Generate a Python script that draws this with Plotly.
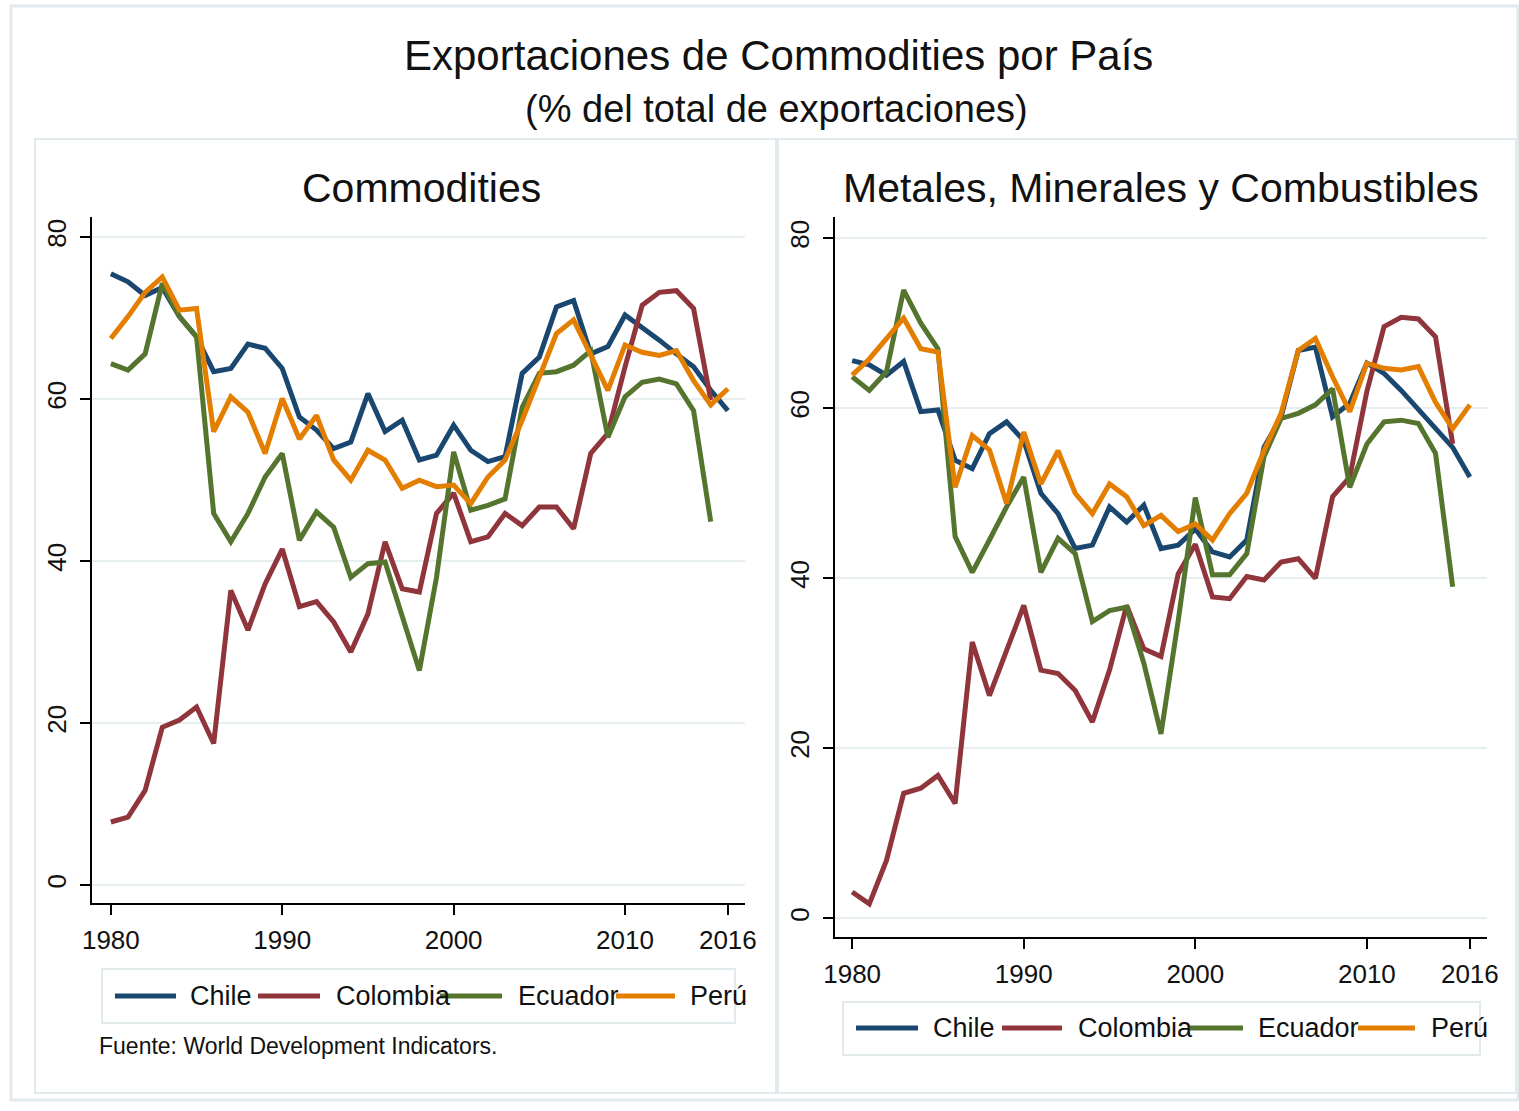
import plotly.graph_objects as go

# ---------------- data ----------------
years = list(range(1980, 2017))
countries = ["Chile", "Colombia", "Ecuador", "Perú"]

# Panel 1: Commodities (% of total exports)
chile_c = [75.5, 74.5, 72.8, 73.8, 70.2, 67.7, 63.4, 63.8, 66.8, 66.3, 63.8, 57.8, 56.2, 53.9, 54.7, 60.7, 56.0, 57.4, 52.5,
           53.1, 56.8, 53.7, 52.3, 52.9, 63.2, 65.2, 71.4, 72.2, 65.6, 66.5, 70.4, 68.9, 67.3, 65.6, 64.0, 61.1, 58.6]
colombia_c = [7.8, 8.4, 11.7, 19.5, 20.4, 22.0, 17.5, 36.4, 31.5, 37.2, 41.5, 34.4, 35.0, 32.5, 28.8, 33.5, 42.4, 36.6, 36.2,
              45.9, 48.4, 42.4, 43.0, 45.9, 44.4, 46.7, 46.7, 44.0, 53.3, 55.8, 64.0, 71.6, 73.2, 73.4, 71.2, 59.9, None]
ecuador_c = [64.4, 63.6, 65.6, 74.3, 70.2, 67.7, 45.9, 42.4, 45.9, 50.4, 53.3, 42.6, 46.1, 44.2, 38.0, 39.7, 39.9, 33.3, 26.5,
             38.0, 53.5, 46.3, 46.9, 47.7, 59.0, 63.2, 63.4, 64.2, 66.0, 55.3, 60.3, 62.1, 62.5, 61.9, 58.6, 44.9, None]
peru_c = [67.5, 70.2, 73.2, 75.1, 71.0, 71.2, 56.0, 60.3, 58.4, 53.3, 60.1, 55.1, 58.0, 52.5, 50.0, 53.7, 52.5, 49.0, 50.0,
          49.2, 49.4, 47.1, 50.4, 52.5, 57.4, 62.7, 68.1, 69.8, 65.6, 61.1, 66.7, 65.8, 65.4, 66.0, 62.3, 59.3, 61.3]

# Panel 2: Metales, Minerales y Combustibles (% of total exports)
chile_m = [65.6, 65.1, 63.9, 65.5, 59.6, 59.8, 53.9, 52.9, 57.0, 58.4, 56.2, 50.0, 47.6, 43.5, 43.9, 48.4, 46.6, 48.6, 43.5,
           43.9, 45.8, 43.1, 42.5, 44.5, 55.4, 59.0, 66.8, 67.2, 59.0, 60.6, 65.3, 64.1, 62.1, 59.9, 57.8, 55.4, 51.9]
colombia_m = [3.1, 1.7, 6.8, 14.7, 15.3, 16.8, 13.5, 32.5, 26.2, 31.5, 36.8, 29.2, 28.8, 26.8, 23.1, 29.2, 36.8, 31.7, 30.8,
              40.5, 44.0, 37.8, 37.6, 40.2, 39.8, 41.9, 42.3, 40.0, 49.6, 51.9, 62.0, 69.6, 70.7, 70.5, 68.4, 55.8, None]
ecuador_m = [63.7, 62.1, 64.3, 73.9, 70.0, 67.0, 44.9, 40.7, 44.5, 48.4, 51.9, 40.7, 44.7, 42.9, 34.9, 36.2, 36.6, 30.0, 21.7,
             35.0, 49.5, 40.4, 40.4, 42.9, 54.3, 58.8, 59.4, 60.4, 62.3, 50.7, 55.8, 58.4, 58.6, 58.2, 54.7, 39.0, None]
peru_m = [63.9, 65.8, 68.2, 70.6, 67.0, 66.6, 50.7, 56.8, 55.1, 48.8, 57.2, 51.1, 55.0, 50.0, 47.6, 51.1, 49.6, 46.2, 47.4,
          45.5, 46.4, 44.5, 47.6, 50.0, 55.0, 59.4, 66.8, 68.2, 63.7, 59.6, 65.3, 64.7, 64.5, 64.9, 60.7, 57.6, 60.4]

x_ticks = [1980, 1990, 2000, 2010, 2016]
y_ticks = [0, 20, 40, 60, 80]

title = "Exportaciones de Commodities por País"
subtitle = "(% del total de exportaciones)"
panel_titles = ["Commodities", "Metales, Minerales y Combustibles"]
source = "Fuente: World Development Indicators."

# ---------------- style ----------------
W, H = 1519, 1111
colors = ["#1a476f", "#90353b", "#55752f", "#e37e00"]
FONT = "Liberation Sans, Arial, sans-serif"
TXT = "#111111"
GRID = "#e6eef0"
FRAME = "#e2eaed"


def px(x):
    return x / W


def py(y):
    return 1 - y / H


fig = go.Figure()

panels = [
    (chile_c, colombia_c, ecuador_c, peru_c),
    (chile_m, colombia_m, ecuador_m, peru_m),
]
for p, series in enumerate(panels):
    xa = "x" if p == 0 else "x2"
    ya = "y" if p == 0 else "y2"
    for name, vals, col in zip(countries, series, colors):
        fig.add_trace(go.Scatter(
            x=years, y=vals, name=name, mode="lines",
            line=dict(color=col, width=5),
            xaxis=xa, yaxis=ya, showlegend=False,
            connectgaps=False,
        ))

axis_common = dict(
    ticks="outside", ticklen=10, tickwidth=2, tickcolor="black",
    showline=True, linecolor="black", linewidth=2, zeroline=False, automargin=False,
    tickfont=dict(family=FONT, size=26, color=TXT),
)

fig.update_layout(
    template="none",
    width=W, height=H,
    margin=dict(l=0, r=0, t=0, b=0, pad=0, autoexpand=False),
    paper_bgcolor="white", plot_bgcolor="white",
    showlegend=False,
    xaxis=dict(domain=[px(92), px(745)], range=[1978.9, 2017.0], tickvals=x_ticks,
               showgrid=False, anchor="y", ticklabelstandoff=3, **axis_common),
    yaxis=dict(domain=[py(903), py(217)], range=[-2.2, 82.5], tickvals=y_ticks, tickangle=-90,
               showgrid=True, gridcolor=GRID, gridwidth=2, anchor="x", ticklabelstandoff=4, **axis_common),
    xaxis2=dict(domain=[px(835), px(1487)], range=[1979.0, 2017.0], tickvals=x_ticks,
                showgrid=False, anchor="y2", ticklabelstandoff=3, **axis_common),
    yaxis2=dict(domain=[py(937), py(217)], range=[-2.2, 82.5], tickvals=y_ticks, tickangle=-90,
                showgrid=True, gridcolor=GRID, gridwidth=2, anchor="x2", ticklabelstandoff=4, **axis_common),
)

shapes = []
# outer frame and panel frames
shapes.append(dict(type="rect", xref="paper", yref="paper", x0=px(11), x1=px(1518), y0=py(1100), y1=py(6),
                   line=dict(color=FRAME, width=3), fillcolor="rgba(0,0,0,0)", layer="below"))
shapes.append(dict(type="rect", xref="paper", yref="paper", x0=px(35), x1=px(776), y0=py(1093), y1=py(139),
                   line=dict(color=FRAME, width=2), fillcolor="rgba(0,0,0,0)", layer="below"))
shapes.append(dict(type="rect", xref="paper", yref="paper", x0=px(778), x1=px(1516), y0=py(1093), y1=py(139),
                   line=dict(color=FRAME, width=2), fillcolor="rgba(0,0,0,0)", layer="below"))

annotations = [
    dict(text=title, x=px(778), y=py(55), xref="paper", yref="paper", showarrow=False,
         xanchor="center", yanchor="middle", font=dict(family=FONT, size=42, color=TXT)),
    dict(text=subtitle, x=px(776), y=py(109), xref="paper", yref="paper", showarrow=False,
         xanchor="center", yanchor="middle", font=dict(family=FONT, size=38, color=TXT)),
    dict(text=panel_titles[0], x=px(421), y=py(188), xref="paper", yref="paper", showarrow=False,
         xanchor="center", yanchor="middle", font=dict(family=FONT, size=41, color=TXT)),
    dict(text=panel_titles[1], x=px(1161), y=py(188), xref="paper", yref="paper", showarrow=False,
         xanchor="center", yanchor="middle", font=dict(family=FONT, size=41, color=TXT)),
    dict(text=source, x=px(97), y=py(1046), xref="paper", yref="paper", showarrow=False,
         xanchor="left", yanchor="middle", font=dict(family=FONT, size=23, color=TXT)),
]

# manual legends (one per panel), mimicking the original layout
legend_specs = [
    dict(box=(102, 969, 735, 1023), yc=996,
         lines=[(115, 176), (258, 320), (440, 502), (616, 675)], texts=[188, 334, 516, 688]),
    dict(box=(843, 1002, 1480, 1055), yc=1028,
         lines=[(856, 918), (1002, 1062), (1190, 1243), (1358, 1415)], texts=[931, 1076, 1256, 1429]),
]
for spec in legend_specs:
    bx0, by0, bx1, by1 = spec["box"]
    shapes.append(dict(type="rect", xref="paper", yref="paper", x0=px(bx0), x1=px(bx1), y0=py(by1), y1=py(by0),
                       line=dict(color=FRAME, width=2), fillcolor="rgba(0,0,0,0)", layer="below"))
    for name, col, (lx0, lx1), tx in zip(countries, colors, spec["lines"], spec["texts"]):
        annotations.append(dict(text=name, x=px(tx), y=py(spec["yc"]), xref="paper", yref="paper",
                                showarrow=False, xanchor="left", yanchor="middle",
                                font=dict(family=FONT, size=27, color=TXT)))
    for name, col, (lx0, lx1), tx in zip(countries, colors, spec["lines"], spec["texts"]):
        shapes.append(dict(type="line", xref="paper", yref="paper", x0=px(lx0), x1=px(lx1),
                           y0=py(spec["yc"]), y1=py(spec["yc"]), line=dict(color=col, width=5)))

fig.update_layout(shapes=shapes, annotations=annotations)

fig.write_html("out.html", config={"displayModeBar": False},
               post_script="document.body.style.margin='0';document.body.style.overflow='hidden';")
